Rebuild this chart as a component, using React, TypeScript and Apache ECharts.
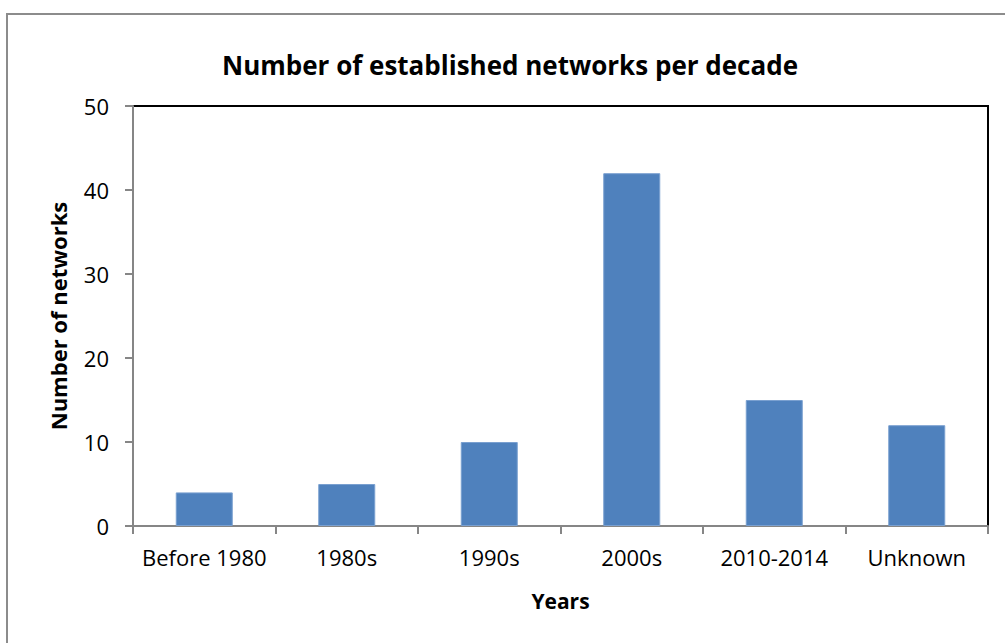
import React, { useEffect, useRef } from "react";
import * as echarts from "echarts";

// Networks established per period
const categories = ["Before 1980", "1980s", "1990s", "2000s", "2010-2014", "Unknown"];
const networkCounts = [4, 5, 10, 42, 15, 12];
const yTicks = { min: 0, max: 50, interval: 10 };

const FONT = "'Open Sans', 'Noto Sans', sans-serif";
const AXIS_GRAY = "#868686";

export default function App() {
  const ref = useRef<HTMLDivElement>(null);

  useEffect(() => {
    if (!ref.current) return;
    const chart = echarts.init(ref.current, null, { renderer: "svg" });
    chart.setOption({
      animation: false,
      backgroundColor: "#ffffff",
      textStyle: { fontFamily: FONT, color: "#000" },
      title: {
        text: "Number of established networks per decade",
        left: 505,
        top: 47,
        textAlign: "center",
        textStyle: { fontFamily: FONT, fontSize: 26, fontWeight: "bold", color: "#000" },
      },
      graphic: [
        {
          type: "rect",
          shape: { x: 7, y: 14, width: 1010, height: 640 },
          style: { fill: "none", stroke: "#8c8c8c", lineWidth: 2 },
          silent: true,
        },
      ],
      grid: {
        left: 133,
        top: 106,
        right: 17,
        bottom: 117,
        show: true,
        borderColor: "#000",
        borderWidth: 2,
        backgroundColor: "transparent",
      },
      xAxis: {
        type: "category",
        data: categories,
        boundaryGap: true,
        name: "Years",
        nameLocation: "middle",
        nameGap: 64,
        nameTextStyle: { fontFamily: FONT, fontSize: 21, fontWeight: "bold", color: "#000" },
        axisLine: { show: true, lineStyle: { color: AXIS_GRAY, width: 2 } },
        axisTick: { show: true, interval: 0, length: 8, lineStyle: { color: AXIS_GRAY, width: 2 } },
        axisLabel: { interval: 0, hideOverlap: false, fontFamily: FONT, fontSize: 22, color: "#000", margin: 20 },
        splitLine: { show: false },
      },
      yAxis: {
        type: "value",
        min: yTicks.min,
        max: yTicks.max,
        interval: yTicks.interval,
        name: "Number of networks",
        nameLocation: "middle",
        nameGap: 64,
        nameTextStyle: { fontFamily: FONT, fontSize: 22, fontWeight: "bold", color: "#000" },
        axisLine: { show: true, lineStyle: { color: AXIS_GRAY, width: 2 } },
        axisTick: { show: true, length: 8, lineStyle: { color: AXIS_GRAY, width: 2 } },
        axisLabel: { fontFamily: FONT, fontSize: 22, color: "#000", margin: 24 },
        splitLine: { show: false },
      },
      series: [
        {
          type: "bar",
          data: networkCounts,
          barWidth: "40%",
          itemStyle: { color: "#4F81BD", borderColor: "#7aa0d0", borderWidth: 1 },
        },
      ],
    });
    return () => chart.dispose();
  }, []);

  return (
    <div
      ref={ref}
      style={{ position: "fixed", left: 0, top: 0, width: 1005, height: 643 }}
    />
  );
}
